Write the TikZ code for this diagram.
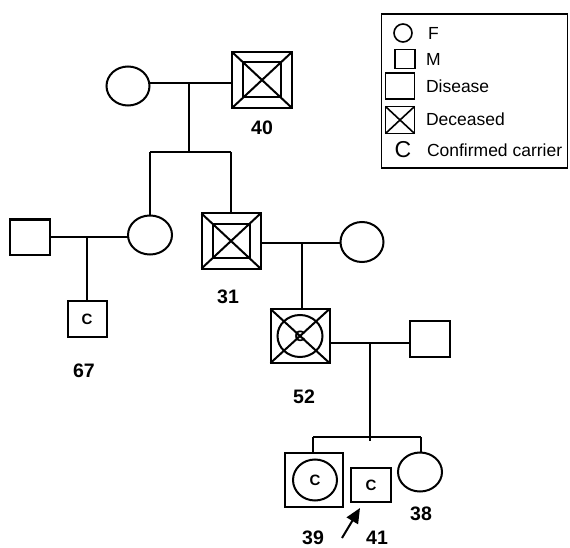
\documentclass[tikz,border=0pt]{standalone}
\usepackage{fontspec}
\setmainfont{Liberation Sans}
\usetikzlibrary{shapes.geometric,arrows.meta}
\begin{document}
\begin{tikzpicture}[x=1pt,y=1pt,line width=2pt,
  sq/.style={draw,rectangle,inner sep=0pt,outer sep=0pt,line width=2pt},
  circ/.style={draw,ellipse,inner sep=0pt,outer sep=0pt,line width=2pt},
  lbl/.style={font=\fontsize{19.5}{19.5}\selectfont\bfseries,inner sep=0pt},
  cc/.style={font=\fontsize{15}{15}\selectfont\bfseries,inner sep=0pt},
  lg/.style={font=\fontsize{17.5}{17.5}\selectfont,anchor=west,inner sep=0pt},
  conn/.style={line width=2pt}]
\useasboundingbox (0,0) rectangle (570,-548);

% Generation I
\node[circ,minimum width=43pt,minimum height=39pt] (I1) at (128,-86) {};
\node[sq,minimum width=60pt,minimum height=56pt] (I2) at (262,-80) {};
\node[sq,minimum width=38pt,minimum height=35pt] (I2i) at (I2) {};
\draw[conn] (I2.north west) -- (I2.south east) (I2.north east) -- (I2.south west);
\node[lbl] (L40) at (262,-128) {40};
\coordinate (m1) at (189,-83);
\coordinate (s1) at (189,-152);
\coordinate (s1l) at (150,-152);
\coordinate (s1r) at (231,-152);
\draw[conn] (m1 -| I1.east) -- (m1 -| I2.west);
\draw[conn] (m1) -- (s1);
\draw[conn] (s1l) -- (s1r);

% Generation II
\node[sq,minimum width=40pt,minimum height=35pt] (II1) at (30,-237) {};
\node[circ,minimum width=44pt,minimum height=39pt] (II2) at (150,-235) {};
\node[sq,minimum width=59pt,minimum height=55pt] (II3) at (231,-241) {};
\node[sq,minimum width=37pt,minimum height=34pt] (II3i) at (II3) {};
\draw[conn] (II3.north west) -- (II3.south east) (II3.north east) -- (II3.south west);
\node[lbl] (L31) at (228,-297) {31};
\node[circ,minimum width=43pt,minimum height=40pt] (II4) at (362,-242) {};
\draw[conn] (s1l) -- (II2.north);
\draw[conn] (s1r) -- (II3.north);
\coordinate (m2) at (87,-237);
\draw[conn] (II1.east) -- (m2 -| II2.west);
\coordinate (m3) at (302,-243);
\draw[conn] (m3 -| II3.east) -- (m3 -| II4.west);

% Generation III
\node[sq,minimum width=39pt,minimum height=36pt] (III1) at (87,-319) {};
\node[cc] at (III1) {C};
\node[lbl] (L67) at (84,-371) {67};
\draw[conn] (m2) -- (III1.north);

\node[sq,minimum width=59pt,minimum height=54pt] (III2) at (300,-336) {};
\node[circ,minimum width=45pt,minimum height=42pt] (III2c) at (III2) {};
\draw[conn] (III2.north west) -- (III2.south east) (III2.north east) -- (III2.south west);
\node[cc] at (III2) {C};
\node[lbl] (L52) at (304,-397) {52};
\draw[conn] (m3) -- (m3 |- III2.north);

\node[sq,minimum width=40pt,minimum height=36pt] (III3) at (430,-339) {};
\coordinate (m4) at (370,-343);
\draw[conn] (m4 -| III2.east) -- (m4 -| III3.west);
\coordinate (s4) at (370,-437);
\coordinate (s4l) at (313,-437);
\coordinate (s4r) at (421,-437);
\draw[conn] (m4) -- ([yshift=-4pt]s4);
\draw[conn] (s4l) -- (s4r);

% Generation IV
\node[sq,minimum width=58pt,minimum height=54pt] (IV1) at (314,-480) {};
\node[circ,minimum width=44pt,minimum height=41pt] (IV1c) at (315,-480) {};
\node[cc] at (IV1c) {C};
\node[sq,minimum width=40pt,minimum height=34pt] (IV2) at (371,-485) {};
\node[cc] at (IV2) {C};
\node[circ,minimum width=44pt,minimum height=39pt] (IV3) at (420,-472) {};
\draw[conn] (s4l) -- (s4l |- IV1.north);
\draw[conn] (s4r) -- (s4r |- IV3.north);
\node[lbl] (L38) at (421,-514) {38};
\node[lbl] (L39) at (313,-538) {39};
\node[lbl] (L41) at (377,-538) {41};
\coordinate (a0) at (342,-538);
\coordinate (a1) at ([shift={(9pt,-6pt)}]IV2.south west);
\draw[line width=2pt,-{Triangle[length=15pt,width=13pt]}] (a0) -- (a1);

% Legend
\node[draw,rectangle,line width=1.6pt,inner sep=0pt,outer sep=0pt,minimum width=186pt,minimum height=154pt] (leg) at (474.5,-91) {};
\node[circ,line width=1.6pt,minimum width=18pt,minimum height=18pt] (lF) at (403,-33) {};
\node[lg] (tF) at (427,-33) {F};
\node[sq,line width=1.6pt,minimum width=20pt,minimum height=19pt] (lM) at (405,-59) {};
\node[lg] (tM) at (425,-59) {M};
\node[sq,line width=1.6pt,minimum width=29pt,minimum height=26pt] (lD) at (400,-86) {};
\node[lg] (tD) at (425,-86) {Disease};
\node[sq,line width=1.6pt,minimum width=29pt,minimum height=27pt] (lX) at (400,-120) {};
\draw[line width=1.6pt] (lX.north west) -- (lX.south east) (lX.north east) -- (lX.south west);
\node[lg] (tX) at (425,-119) {Deceased};
\node[inner sep=0pt,font=\fontsize{23}{23}\selectfont] (lC) at (403,-150) {C};
\node[lg] (tC) at (426,-150) {Confirmed carrier};
\end{tikzpicture}
\end{document}
